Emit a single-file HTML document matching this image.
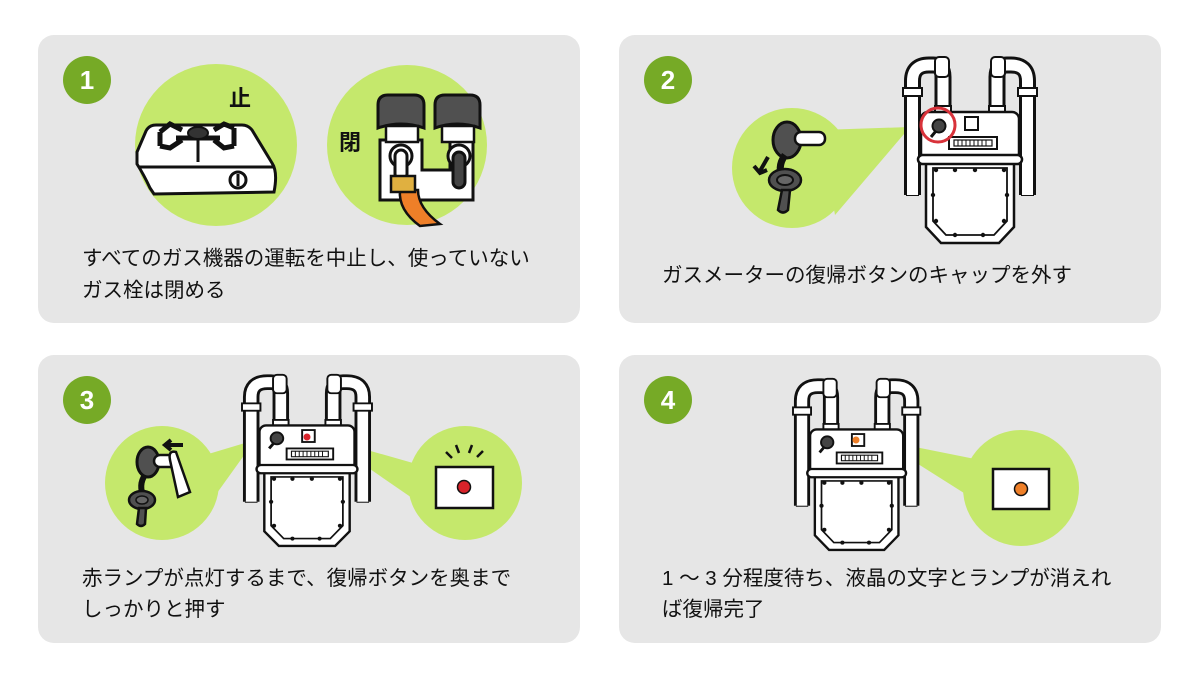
<!DOCTYPE html>
<html><head><meta charset="utf-8"><style>
html,body{margin:0;padding:0;background:#fff;width:1200px;height:675px;overflow:hidden}
svg{display:block}
text{font-family:"Liberation Sans","Noto Sans CJK JP",sans-serif}
</style></head><body>
<svg width="1200" height="675" viewBox="0 0 1200 675" xmlns="http://www.w3.org/2000/svg">
<defs>
<g id="meter">
  <g fill="none" stroke-linecap="butt">
    <path d="M9.5 140 V26 Q9.5 10 26 10 H30 Q40 10 40 22 V60" stroke="#111" stroke-width="17"/>
    <path d="M124.5 140 V26 Q124.5 10 108 10 H104 Q94 10 94 22 V60" stroke="#111" stroke-width="17"/>
    <path d="M9.5 140 V26 Q9.5 10 26 10 H30 Q40 10 40 22 V60" stroke="#fff" stroke-width="11"/>
    <path d="M124.5 140 V26 Q124.5 10 108 10 H104 Q94 10 94 22 V60" stroke="#fff" stroke-width="11"/>
  </g>
  <rect x="3" y="140" width="13" height="1" fill="#111"/>
  <rect x="118" y="140" width="13" height="1" fill="#111"/>
  <rect x="0" y="33" width="19" height="8" fill="#fff" stroke="#111" stroke-width="2"/>
  <rect x="115" y="33" width="19" height="8" fill="#fff" stroke="#111" stroke-width="2"/>
  <rect x="32" y="2" width="14" height="20" rx="4" fill="#fff" stroke="#111" stroke-width="2"/>
  <rect x="88" y="2" width="14" height="20" rx="4" fill="#fff" stroke="#111" stroke-width="2"/>
  <rect x="32" y="51" width="16" height="7" fill="#fff" stroke="#111" stroke-width="2"/>
  <rect x="86" y="51" width="16" height="7" fill="#fff" stroke="#111" stroke-width="2"/>
  <rect x="18" y="57" width="98" height="48" rx="7" fill="#fff" stroke="#111" stroke-width="2.5"/>
  <path d="M23 108 V172 L38 188 H96 L111 172 V108 Z" fill="#fff" stroke="#111" stroke-width="2.5"/>
  <path d="M30 113 V166 L43 180 H91 L104 166 V113 Z" fill="#fff" stroke="#111" stroke-width="1.8"/>
  <g fill="#111">
    <circle cx="33" cy="115" r="2.2"/><circle cx="52" cy="115" r="2.2"/><circle cx="72" cy="115" r="2.2"/><circle cx="101" cy="115" r="2.2"/>
    <circle cx="30" cy="140" r="2.2"/><circle cx="104" cy="140" r="2.2"/><circle cx="33" cy="166" r="2.2"/><circle cx="101" cy="166" r="2.2"/>
    <circle cx="52" cy="180" r="2.2"/><circle cx="80" cy="180" r="2.2"/>
  </g>
  <rect x="15" y="100" width="104" height="9" rx="4.5" fill="#fff" stroke="#111" stroke-width="2.5"/>
  <circle cx="36" cy="71" r="6.5" fill="#444" stroke="#111" stroke-width="2"/>
  <path d="M33 76 L28 82" stroke="#111" stroke-width="3"/>
  <rect x="62" y="62" width="13" height="13" fill="#fff" stroke="#111" stroke-width="2"/>
  <rect x="46" y="82" width="48" height="12" fill="#fff" stroke="#111" stroke-width="2"/>
  <rect x="51" y="85" width="38" height="6" fill="#fff" stroke="#111" stroke-width="1.2"/>
  <path d="M55 85 V91 M59 85 V91 M63 85 V91 M67 85 V91 M71 85 V91 M75 85 V91 M79 85 V91 M83 85 V91" stroke="#111" stroke-width="1"/>
</g>
</defs>

<g fill="#e6e6e6">
<rect x="38" y="35" width="542" height="288" rx="16"/>
<rect x="619" y="35" width="542" height="288" rx="16"/>
<rect x="38" y="355" width="542" height="288" rx="16"/>
<rect x="619" y="355" width="542" height="288" rx="16"/>
</g>
<g fill="#76aa26">
<circle cx="87" cy="80" r="24"/><circle cx="668" cy="80" r="24"/>
<circle cx="87" cy="400" r="24"/><circle cx="668" cy="400" r="24"/>
</g>
<g fill="#fff" font-size="26" font-weight="bold" text-anchor="middle">
<text x="87" y="89">1</text><text x="668" y="89">2</text>
<text x="87" y="409">3</text><text x="668" y="409">4</text>
</g>

<!-- panel 1 -->
<circle cx="216" cy="145" r="81" fill="#c5e86c"/>
<circle cx="407" cy="145" r="80" fill="#c5e86c"/>
<text x="229" y="106" font-size="22" font-weight="bold" fill="#111">止</text>
<text x="339" y="150" font-size="22" font-weight="bold" fill="#111">閉</text>
<path d="M137 152 L146 131 Q149 125 156 125 L242 125 Q248 125 252 130 L272 163 Q278 172 274 192 L154 194 L150 188 Q144 175 137 164 Z" fill="#fff" stroke="#111" stroke-width="3"/>
<line x1="139" y1="167" x2="274" y2="167" stroke="#111" stroke-width="3"/>
<circle cx="238" cy="180" r="8" fill="#fff" stroke="#111" stroke-width="3"/>
<line x1="238" y1="174" x2="238" y2="186" stroke="#111" stroke-width="3"/>
<g stroke="#111" stroke-width="5" fill="none">
<path d="M160 132 L170 124 L182 130 M160 146 L170 148 L182 140 M234 128 L224 124 L214 130 M234 146 L224 148 L214 140 M160 132 V146 M234 128 V146"/>
<line x1="176" y1="138" x2="220" y2="138"/>
<line x1="198" y1="125" x2="198" y2="162" stroke-width="3"/>
</g>
<ellipse cx="198" cy="133" rx="10" ry="6" fill="#333" stroke="#111" stroke-width="2"/>
<path d="M380 140 H422 V170 H450 V140 H473 V200 H380 Z" fill="#fff" stroke="#111" stroke-width="3"/>
<path d="M378 105 Q378 95 388 95 H414 Q424 95 424 105 V128 Q401 120 378 128 Z" fill="#505050" stroke="#111" stroke-width="3"/>
<path d="M435 105 Q435 95 445 95 H470 Q480 95 480 105 V128 Q457 120 435 128 Z" fill="#505050" stroke="#111" stroke-width="3"/>
<rect x="386" y="126" width="32" height="16" fill="#fff" stroke="#111" stroke-width="2.5"/>
<rect x="442" y="126" width="32" height="16" fill="#fff" stroke="#111" stroke-width="2.5"/>
<circle cx="401" cy="156" r="11" fill="#fff" stroke="#111" stroke-width="3"/>
<circle cx="459" cy="156" r="11" fill="#fff" stroke="#111" stroke-width="3"/>
<rect x="395" y="150" width="12" height="30" rx="6" fill="#fff" stroke="#111" stroke-width="3"/>
<rect x="453" y="152" width="12" height="36" rx="6" fill="#444" stroke="#111" stroke-width="3"/>
<path d="M400 190 Q398 210 420 226 L440 224 Q418 208 418 190 Z" fill="#ee7f28" stroke="#111" stroke-width="2.5"/>
<rect x="391" y="176" width="24" height="16" fill="#e0b040" stroke="#111" stroke-width="2.5"/>
<text x="82" y="265" font-size="20.5" fill="#111">すべてのガス機器の運転を中止し、使っていない</text>
<text x="82" y="297" font-size="20.5" fill="#111">ガス栓は閉める</text>

<!-- panel 2 -->
<path d="M820 130 L910 127 L835 215 Z" fill="#c5e86c"/>
<circle cx="792" cy="168" r="60" fill="#c5e86c"/>
<use href="#meter" x="903" y="55"/>
<circle cx="938" cy="125" r="17" fill="none" stroke="#d8323a" stroke-width="3"/>
<ellipse cx="787" cy="140" rx="14" ry="18" fill="#505050" stroke="#111" stroke-width="3"/>
<rect x="795" y="132" width="30" height="13" rx="6" fill="#fff" stroke="#111" stroke-width="2.5"/>
<path d="M785 155 Q776 168 784 180" stroke="#111" stroke-width="7" fill="none"/>
<ellipse cx="785" cy="180" rx="16" ry="11" fill="#505050" stroke="#111" stroke-width="2.5"/>
<ellipse cx="785" cy="180" rx="8" ry="5" fill="#666" stroke="#111" stroke-width="2"/>
<path d="M782 190 L778 210 Q783 215 788 210 L790 190 Z" fill="#505050" stroke="#111" stroke-width="2.5"/>
<path d="M768 157 L760 171 M754 166 L760 173 L767 170" stroke="#111" stroke-width="4" fill="none"/>
<text x="662" y="282" font-size="20.5" fill="#111">ガスメーターの復帰ボタンのキャップを外す</text>

<!-- panel 3 -->
<path d="M205 455 L255 440 L212 500 Z" fill="#c5e86c"/>
<path d="M325 438 L420 465 L415 500 Z" fill="#c5e86c"/>
<circle cx="162" cy="483" r="57" fill="#c5e86c"/>
<circle cx="465" cy="483" r="57" fill="#c5e86c"/>
<use href="#meter" transform="translate(242 373) scale(0.97 0.92)"/>
<circle cx="307" cy="437" r="3.5" fill="#d8232a"/>
<rect x="436" y="467" width="57" height="41" fill="#fff" stroke="#111" stroke-width="2.5"/>
<circle cx="464" cy="487" r="6.5" fill="#d8232a" stroke="#111" stroke-width="1.5"/>
<path d="M446 452 L452 458 M456 445 L459 453 M472 445 L469 453 M483 451 L477 457" stroke="#111" stroke-width="2.5"/>
<ellipse cx="148" cy="462" rx="11" ry="15" fill="#505050" stroke="#111" stroke-width="3"/>
<rect x="154" y="455" width="22" height="12" rx="6" fill="#fff" stroke="#111" stroke-width="2.5"/>
<path d="M170 460 Q168 450 176 452 L190 492 L178 497 Z" fill="#fff" stroke="#111" stroke-width="2.5"/>
<path d="M145 475 Q138 485 144 498" stroke="#111" stroke-width="6" fill="none"/>
<ellipse cx="142" cy="500" rx="13" ry="9" fill="#505050" stroke="#111" stroke-width="2.5"/>
<ellipse cx="142" cy="500" rx="6" ry="4" fill="#666" stroke="#111" stroke-width="1.5"/>
<path d="M139 508 L137 524 Q141 528 145 524 L146 508 Z" fill="#505050" stroke="#111" stroke-width="2.5"/>
<path d="M183 445 H166 M171 440 L165 445 L171 450" stroke="#111" stroke-width="4" fill="none"/>
<text x="82" y="585" font-size="20.5" fill="#111">赤ランプが点灯するまで、復帰ボタンを奥まで</text>
<text x="82" y="616" font-size="20.5" fill="#111">しっかりと押す</text>

<!-- panel 4 -->
<path d="M880 440 L980 460 L975 500 Z" fill="#c5e86c"/>
<circle cx="1021" cy="488" r="58" fill="#c5e86c"/>
<use href="#meter" transform="translate(793 377) scale(0.95 0.92)"/>
<circle cx="856" cy="440" r="3.5" fill="#ee7f28"/>
<rect x="993" y="469" width="56" height="40" fill="#fff" stroke="#111" stroke-width="2.5"/>
<circle cx="1021" cy="489" r="6.5" fill="#ee7f28" stroke="#111" stroke-width="1.5"/>
<text x="662" y="585" font-size="20.5" fill="#111">1 ～ 3 分程度待ち、液晶の文字とランプが消えれ</text>
<text x="662" y="616" font-size="20.5" fill="#111">ば復帰完了</text>
</svg>
</body></html>
